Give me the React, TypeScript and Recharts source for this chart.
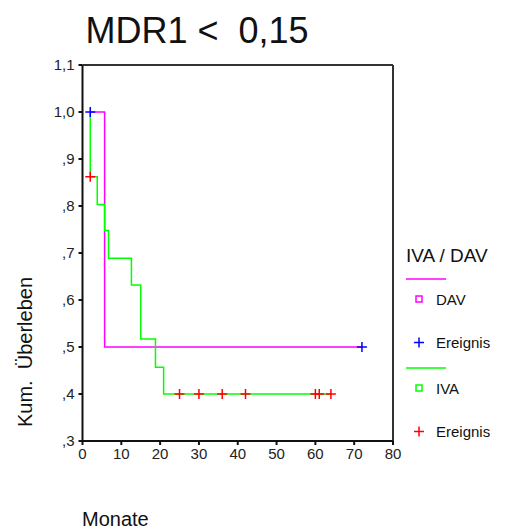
import React from "react";
import {
  ComposedChart,
  Line,
  Scatter,
  XAxis,
  YAxis,
  ReferenceLine,
  Label,
} from "recharts";

// Kaplan-Meier steps (months, cumulative survival)
const davTimes = [2, 5.7, 72];
const davSurv = [1.0, 0.5, 0.5];
const ivaTimes = [2, 2, 3.8, 5.7, 6.7, 12.6, 15, 18.8, 20.9, 64];
const ivaSurv = [1.0, 0.862, 0.803, 0.748, 0.689, 0.632, 0.517, 0.457, 0.4, 0.4];

// censored cases ("Ereignis" markers)
const davCensTimes = [2, 72];
const davCensSurv = [1.0, 0.5];
const ivaCensTimes = [2, 25, 30, 36, 42, 60, 61, 64];
const ivaCensSurv = [0.862, 0.4, 0.4, 0.4, 0.4, 0.4, 0.4, 0.4];

const xTicks = [0, 10, 20, 30, 40, 50, 60, 70, 80];
const yTicks = [0.3, 0.4, 0.5, 0.6, 0.7, 0.8, 0.9, 1.0, 1.1];

const groups = [
  { name: "DAV", color: "#ff00ff", cross: "#0000ff", event: "Ereignis" },
  { name: "IVA", color: "#00ff00", cross: "#ff0000", event: "Ereignis" },
];

const zip = (t: number[], s: number[]) => t.map((v, i) => ({ t: v, s: s[i] }));

const davData = zip(davTimes, davSurv);
const ivaData = zip(ivaTimes, ivaSurv);
const davCens = zip(davCensTimes, davCensSurv);
const ivaCens = zip(ivaCensTimes, ivaCensSurv);

const FONT = "'Liberation Sans', Arial, sans-serif";

const fmtY = (v: number) => {
  const s = v.toFixed(1).replace(".", ",");
  return v < 1 ? s.slice(1) : s;
};

const plus = (color: string) => (props: any) => {
  const { cx, cy } = props;
  return (
    <g stroke={color} strokeWidth={1.5}>
      <line x1={cx - 5} y1={cy} x2={cx + 5} y2={cy} />
      <line x1={cx} y1={cy - 5} x2={cx} y2={cy + 5} />
    </g>
  );
};

// legend drawn as an overlay so it does not shrink the plot
const LegendBox = () => (
  <svg
    width={125}
    height={240}
    style={{ position: "absolute", left: 400, top: 233, fontFamily: FONT }}
  >
    <text x={6} y={29} fontSize={19} fill="#111">
      IVA / DAV
    </text>
    {groups.map((g, i) => {
      const y0 = 46 + i * 89;
      return (
        <g key={g.name}>
          <line x1={6} x2={46} y1={y0} y2={y0} stroke={g.color} strokeWidth={1.5} />
          <rect x={16} y={y0 + 17} width={6} height={6} fill="none" stroke={g.color} strokeWidth={1.5} />
          <text x={36} y={y0 + 25.5} fontSize={15} fill="#111">
            {g.name}
          </text>
          <g stroke={g.cross} strokeWidth={1.5}>
            <line x1={14} x2={24} y1={y0 + 63.5} y2={y0 + 63.5} />
            <line x1={19} x2={19} y1={y0 + 58.5} y2={y0 + 68.5} />
          </g>
          <text x={36} y={y0 + 69} fontSize={15} fill="#111">
            {g.event}
          </text>
        </g>
      );
    })}
  </svg>
);

export default function App() {
  return (
    <div style={{ position: "absolute", left: 0, top: 0, width: 529, height: 529, background: "#fff" }}>
      <ComposedChart
        width={529}
        height={529}
        margin={{ top: 65, right: 136, bottom: 58, left: 42.5 }}
        style={{ fontFamily: FONT }}
      >
        <text x={197} y={43} textAnchor="middle" fontSize={36} fill="#111" style={{ whiteSpace: "pre" }}>
          {"MDR1 <  0,15"}
        </text>
        <XAxis
          type="number"
          dataKey="t"
          domain={[0, 80]}
          ticks={xTicks}
          interval={0}
          allowDataOverflow
          height={30}
          tickSize={4}
          tickMargin={3}
          stroke="#111"
          strokeWidth={2}
          tick={{ fontSize: 15, fill: "#222" }}
        >
          <Label
            content={() => (
              <text x={82} y={526} fontSize={20} fill="#111">
                Monate
              </text>
            )}
          />
        </XAxis>
        <YAxis
          type="number"
          domain={[0.3, 1.1]}
          ticks={yTicks}
          interval={0}
          allowDataOverflow
          width={40}
          tickSize={4}
          tickMargin={4}
          tickFormatter={fmtY}
          stroke="#111"
          strokeWidth={2}
          tick={{ fontSize: 15, fill: "#222" }}
        >
          <Label
            content={() => (
              <text
                x={32}
                y={352}
                fontSize={20}
                fill="#111"
                textAnchor="middle"
                transform="rotate(-90 32 352)"
                style={{ whiteSpace: "pre" }}
              >
                {"Kum.  Überleben"}
              </text>
            )}
          />
        </YAxis>
        <ReferenceLine y={1.1} stroke="#333" strokeWidth={2} />
        <ReferenceLine x={80} stroke="#333" strokeWidth={2} />
        <Line
          data={davData}
          dataKey="s"
          type="stepAfter"
          stroke="#ff00ff"
          strokeWidth={1.5}
          dot={false}
          isAnimationActive={false}
        />
        <Line
          data={ivaData}
          dataKey="s"
          type="stepAfter"
          stroke="#00ff00"
          strokeWidth={1.5}
          dot={false}
          isAnimationActive={false}
        />
        <Scatter data={davCens} dataKey="s" shape={plus("#0000ff")} isAnimationActive={false} />
        <Scatter data={ivaCens} dataKey="s" shape={plus("#ff0000")} isAnimationActive={false} />
      </ComposedChart>
      <LegendBox />
    </div>
  );
}
